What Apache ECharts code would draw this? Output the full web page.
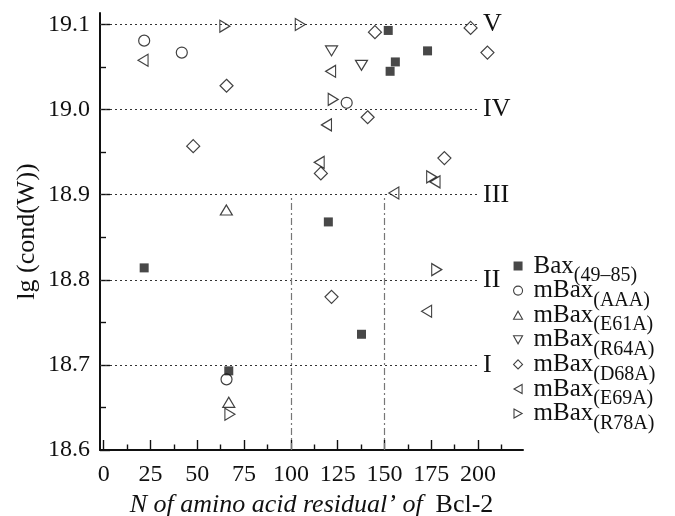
<!DOCTYPE html>
<html>
<head>
<meta charset="utf-8">
<script src="https://cdn.jsdelivr.net/npm/echarts@6/dist/echarts.min.js"></script>
<style>
  html, body { margin: 0; padding: 0; background: #fff; }
  #chart { width: 675px; height: 516px; }
</style>
</head>
<body>
<div id="chart"></div>
<script>
// ---- data ----
const seriesNames = ['Bax(49–85)', 'mBax(AAA)', 'mBax(E61A)', 'mBax(R64A)', 'mBax(D68A)', 'mBax(E69A)', 'mBax(R78A)'];
const bax49_85 = [[21.6,18.814],[66.8,18.693],[120,18.868],[137.7,18.736],[152,19.093],[155.8,19.056],[153,19.045],[173,19.069]];
const mBaxAAA  = [[21.6,19.081],[41.7,19.067],[129.8,19.008],[65.6,18.683]];
const mBaxE61A = [[65.5,18.882],[66.8,18.656]];
const mBaxR64A = [[121.7,19.069],[137.7,19.052]];
const mBaxD68A = [[47.8,18.957],[65.6,19.028],[116,18.925],[121.7,18.78],[141,18.991],[144.9,19.091],[182,18.943],[196,19.096],[205,19.067]];
const mBaxE69A = [[21,19.058],[115.1,18.938],[119,18.982],[121.2,19.045],[155,18.902],[172.5,18.763],[177,18.915]];
const mBaxR78A = [[64.7,19.098],[67.4,18.642],[105,19.1],[122.6,19.012],[175.2,18.921],[177.9,18.812]];

const xTickLabels = [0, 25, 50, 75, 100, 125, 150, 175, 200];
const xMinorTicks = [12.5, 37.5, 62.5, 87.5, 112.5, 137.5, 162.5, 187.5, 212.5];
const yTickLabels = [18.6, 18.7, 18.8, 18.9, 19.0, 19.1];
const yMinorTicks = [18.65, 18.75, 18.85, 18.95, 19.05];
const levelValues = [18.7, 18.8, 18.9, 19.0, 19.1];
const levelNames  = ['I', 'II', 'III', 'IV', 'V'];
const levelEndX = 200;
const dividerX = [100, 150];
const dividerTop = 18.9;

// ---- chart ----
const FONT = 'Liberation Serif';
const INK = '#111';
const xMin = -2, xMax = 224, yMin = 18.6, yMax = 19.1135;

const chart = echarts.init(document.getElementById('chart'), null, { renderer: 'canvas' });

const hollow = { color: 'rgba(0,0,0,0)', borderColor: INK, borderWidth: 1.2 };
const TRI_UP = 'path://M5,0 L10,9 L0,9 Z';
const TRI_DOWN = 'path://M0,0 L10,0 L5,9 Z';
const TRI_LEFT = 'path://M0,5 L9,0 L9,10 Z';
const TRI_RIGHT = 'path://M0,0 L9,5 L0,10 Z';
const seriesDefs = [
  { data: bax49_85, symbol: 'rect', size: 9, rotate: 0, icon: 'rect', style: { color: '#1a1a1a', borderColor: '#1a1a1a', borderWidth: 0 } },
  { data: mBaxAAA, symbol: 'circle', size: 11, rotate: 0, icon: 'circle', style: hollow },
  { data: mBaxE61A, symbol: 'triangle', size: [12, 10], rotate: 0, icon: TRI_UP, style: hollow },
  { data: mBaxR64A, symbol: 'triangle', size: [12, 10], rotate: 180, icon: TRI_DOWN, style: hollow },
  { data: mBaxD68A, symbol: 'diamond', size: 13, rotate: 0, icon: 'diamond', style: hollow },
  { data: mBaxE69A, symbol: 'triangle', size: [12, 10], rotate: 90, icon: TRI_LEFT, style: hollow },
  { data: mBaxR78A, symbol: 'triangle', size: [12, 10], rotate: -90, icon: TRI_RIGHT, style: hollow }
];

const series = seriesDefs.map((d, i) => ({
  name: seriesNames[i],
  type: 'scatter',
  xAxisIndex: 0,
  yAxisIndex: 0,
  data: d.data,
  symbol: d.symbol,
  symbolSize: d.size,
  symbolRotate: d.rotate,
  itemStyle: d.style,
  z: 5
}));

// level lines (dotted) with roman numeral labels, and dash-dot dividers
const levelLines = levelValues.map((v, i) => ([
  { coord: [xMin, v], label: { formatter: levelNames[i] } },
  { coord: [levelEndX, v] }
]));
const dividerLines = dividerX.map(x => ([
  { coord: [x, yMin], lineStyle: { type: [7, 3, 2, 3], color: '#777', width: 1.2 }, label: { show: false } },
  { coord: [x, dividerTop] }
]));

series.push({
  name: 'levels',
  type: 'scatter',
  xAxisIndex: 0,
  yAxisIndex: 0,
  data: [],
  silent: true,
  markLine: {
    silent: true,
    symbol: ['none', 'none'],
    animation: false,
    lineStyle: { type: [2, 3], color: '#333', width: 1.1 },
    label: {
      show: true,
      position: 'end',
      distance: 5,
      fontFamily: FONT,
      fontSize: 26,
      color: INK
    },
    emphasis: { disabled: true },
    data: levelLines.concat(dividerLines)
  },
  z: 2
});

const legendRich = {
  a: { fontFamily: FONT, fontSize: 25, lineHeight: 40, verticalAlign: 'middle', color: INK, padding: [0, 0, 0, 6] },
  b: { fontFamily: FONT, fontSize: 20, lineHeight: 20, verticalAlign: 'top', color: INK, padding: [20, 0, 0, 0] }
};

const legendData = seriesDefs.map((d, i) => ({
  name: seriesNames[i],
  icon: d.icon,
  itemStyle: d.style === hollow
    ? { color: 'rgba(0,0,0,0)', borderColor: INK, borderWidth: 1.1 }
    : { color: '#1a1a1a', borderWidth: 0 }
}));

const option = {
  animation: false,
  backgroundColor: '#fff',
  grid: { left: 100, right: 152, top: 13, bottom: 66, containLabel: false, outerBoundsMode: 'none' },
  legend: {
    data: legendData,
    orient: 'vertical',
    left: 513,
    top: 246,
    padding: 0,
    itemWidth: 9,
    itemHeight: 9,
    itemGap: -15.4,
    selectedMode: false,
    formatter: function (name) {
      const m = name.match(/^(m?Bax)(\(.*\))$/);
      return m ? '{a|' + m[1] + '}{b|' + m[2] + '}' : name;
    },
    textStyle: { fontFamily: FONT, fontSize: 25, color: INK, rich: legendRich }
  },
  xAxis: [
    {
      type: 'value',
      min: xMin, max: xMax,
      position: 'bottom',
      axisLine: { show: true, onZero: false, lineStyle: { color: INK, width: 2 } },
      axisTick: { show: true, inside: true, length: 10, customValues: xTickLabels, lineStyle: { color: INK, width: 1.4 } },
      axisLabel: { show: true, customValues: xTickLabels, margin: 13, fontFamily: FONT, fontSize: 24, color: INK },
      splitLine: { show: false },
      name: '{i|N of amino acid residual’ of}  {r|Bcl-2}',
      nameLocation: 'middle',
      nameGap: 42,
      nameMoveOverlap: false,
      nameTextStyle: {
        fontFamily: FONT, fontSize: 26, color: INK,
        rich: {
          i: { fontFamily: FONT, fontSize: 26, fontStyle: 'italic', color: INK },
          r: { fontFamily: FONT, fontSize: 26, color: INK }
        }
      }
    },
    {
      type: 'value',
      min: xMin, max: xMax,
      position: 'bottom',
      axisLine: { show: false, onZero: false },
      axisTick: { show: true, inside: true, length: 5.5, customValues: xMinorTicks, lineStyle: { color: INK, width: 1.4 } },
      axisLabel: { show: false },
      splitLine: { show: false }
    }
  ],
  yAxis: [
    {
      type: 'value',
      min: yMin, max: yMax,
      position: 'left',
      axisLine: { show: true, onZero: false, lineStyle: { color: INK, width: 2 } },
      axisTick: { show: true, inside: true, length: 10, customValues: yTickLabels, lineStyle: { color: INK, width: 1.4 } },
      axisLabel: {
        show: true, customValues: yTickLabels, margin: 10,
        fontFamily: FONT, fontSize: 24, color: INK,
        formatter: v => Number(v).toFixed(1)
      },
      splitLine: { show: false },
      name: 'lg (cond(W))',
      nameLocation: 'middle',
      nameGap: 60,
      nameRotate: 90,
      nameMoveOverlap: false,
      nameTextStyle: { fontFamily: FONT, fontSize: 26, color: INK }
    },
    {
      type: 'value',
      min: yMin, max: yMax,
      position: 'left',
      axisLine: { show: false, onZero: false },
      axisTick: { show: true, inside: true, length: 6, customValues: yMinorTicks, lineStyle: { color: INK, width: 1.4 } },
      axisLabel: { show: false },
      splitLine: { show: false }
    }
  ],
  series: series
};

chart.setOption(option);
</script>
</body>
</html>
